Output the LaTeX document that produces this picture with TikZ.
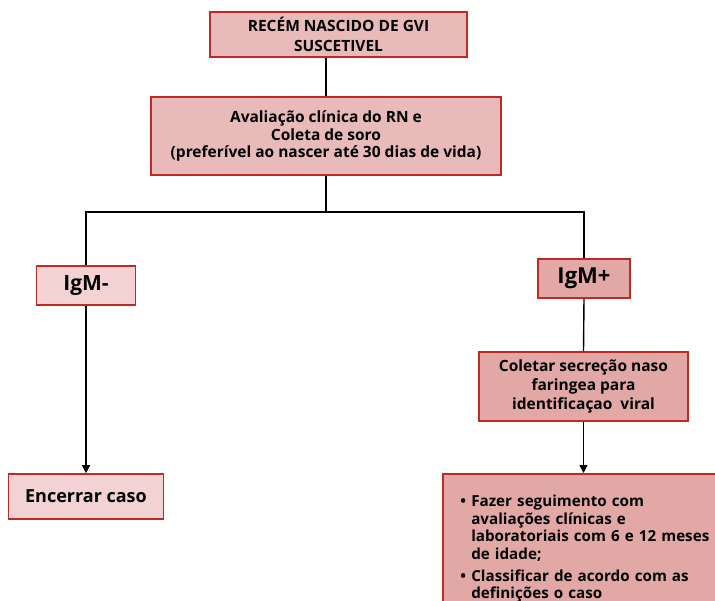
\documentclass[tikz,border=0pt]{standalone}
\usepackage{fontspec}
\setmainfont{Open Sans}
\usetikzlibrary{arrows.meta}
\definecolor{boxred}{RGB}{192,42,36}
\definecolor{pinkA}{RGB}{232,186,186}
\definecolor{pinkB}{RGB}{242,210,210}
\definecolor{pinkC}{RGB}{226,168,166}

\begin{document}
\begin{tikzpicture}[x=1pt,y=-1pt,
  box/.style={draw=boxred,line width=1.6pt,rectangle,inner sep=2pt,align=center,
    font=\bfseries\fontsize{15.5}{17.5}\selectfont},
  link/.style={line width=1.4pt},
  arr/.style={link,-{Triangle[length=8pt,width=8pt]}}]
\useasboundingbox (0,0) rectangle (715,601);

\node[box,fill=pinkA,minimum width=257pt,minimum height=45pt,
  font=\bfseries\fontsize{15.5}{19.5}\selectfont] (rn) at (338.5,34.5)
  {RECÉM NASCIDO DE GVI\\SUSCETIVEL};
\node[box,fill=pinkA,minimum width=350pt,minimum height=78pt] (eval) at (326,136)
  {Avaliação clínica do RN e\\Coleta de soro\\(preferível ao nascer até 30 dias de vida)};

\node[box,fill=pinkB,minimum width=99pt,minimum height=39pt,
  font=\bfseries\fontsize{21}{24}\selectfont] (neg) at (86,285.5) {IgM-};
\node[box,fill=pinkC,minimum width=92pt,minimum height=39pt,
  font=\bfseries\fontsize{22}{24}\selectfont] (pos) at (584,278.5) {IgM+};

\node[box,fill=pinkC,minimum width=209pt,minimum height=69pt,
  font=\bfseries\fontsize{15.5}{19}\selectfont] (swab) at (583.5,386.5)
  {Coletar secreção naso\\faringea para\\identificaçao\ \ viral};
\node[box,fill=pinkB,minimum width=155pt,minimum height=45pt,
  font=\bfseries\fontsize{18}{20}\selectfont] (close) at (86,496.5) {Encerrar caso};

\node[box,fill=pinkC,anchor=north west,align=left,text width=265pt,
  minimum width=300pt,minimum height=150pt,inner xsep=12pt,inner ysep=3pt,
  font=\bfseries\fontsize{15.2}{17.5}\selectfont] (follow) at (442,473)
  {\makebox[11pt][l]{\textbullet}\parbox[t]{250pt}{Fazer seguimento com\\avaliações clínicas e\\laboratoriais com 6 e 12 meses\\de idade;}\\[7pt]
   \makebox[11pt][l]{\textbullet}\parbox[t]{250pt}{Classificar de acordo com as\\definições o caso}};

% ligacoes
\coordinate (fork) at (326,212);
\draw[link] (rn.south -| eval.north) -- (eval.north);
\draw[link] (eval.south) -- (fork);
\draw[link] (neg.north) |- (fork) -| (pos.north);
\draw[arr] (neg.south) -- (close.north);
\draw[link] (pos.south) -- (swab.north);
\draw[arr] (swab.south) -- (swab.south |- follow.north);
\end{tikzpicture}
\end{document}
